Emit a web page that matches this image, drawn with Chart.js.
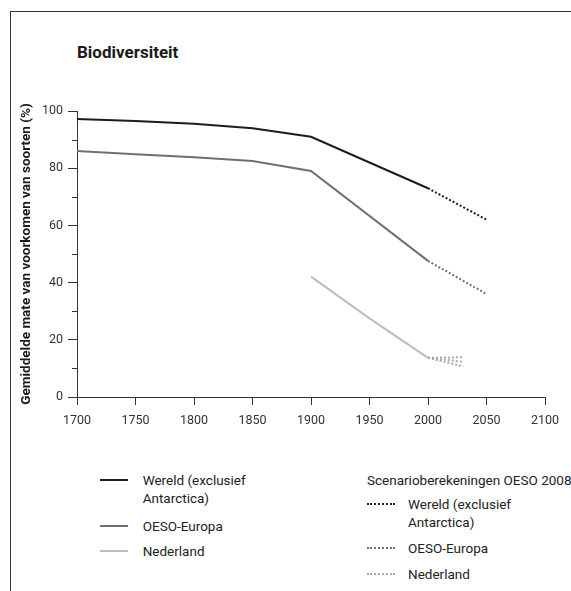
<!DOCTYPE html>
<html>
<head>
<meta charset="utf-8">
<script src="https://cdn.jsdelivr.net/npm/chart.js@4/dist/chart.umd.min.js"></script>
<style>
  html, body { margin: 0; padding: 0; background: #fff; }
  body { font-family: Roboto, "DejaVu Sans", sans-serif; color: #222; }
  #wrap { position: relative; width: 571px; height: 591px; overflow: hidden; }
  #frame { position: absolute; left: 10px; top: 11px; right: -5px; bottom: -5px;
           border-left: 1px solid #333; border-top: 1px solid #333; }
  #title { position: absolute; left: 77px; top: 42px; font-size: 17px; font-weight: bold;
           line-height: 20px; color: #1a1a1a; }
  canvas { position: absolute; left: 0; top: 0; }
  .lg { position: absolute; font-size: 13.5px; line-height: 18px; color: #222; white-space: nowrap; }
  .sw { position: absolute; width: 28px; height: 0; }
</style>
</head>
<body>
<div id="wrap">
  <div id="frame"></div>
  <div id="title">Biodiversiteit</div>
  <canvas id="chart" width="571" height="440"></canvas>
  <div id="legend"></div>
</div>
<script>
// series names (legend)
const seriesNames = ["Wereld (exclusief\nAntarctica)", "OESO-Europa", "Nederland"];
const scenarioTitle = "Scenarioberekeningen OESO 2008";

// measured history
const wereldYears = [1700, 1750, 1800, 1850, 1900, 2000];
const wereldValues = [97.2, 96.5, 95.5, 94, 91, 73];
const oesoYears = [1700, 1750, 1800, 1850, 1900, 2000];
const oesoValues = [86, 84.9, 83.8, 82.5, 79, 47.6];
const nlYears = [1900, 1950, 2000];
const nlValues = [42.1, 27.5, 13.7];

// OESO 2008 scenario calculations
const wereldScenYears = [2000, 2050];
const wereldScenValues = [73, 62];
const oesoScenYears = [2000, 2050];
const oesoScenValues = [47.6, 36];
const nlScenYears = [2000, 2030];
const nlScenHigh = [13.7, 13.9];
const nlScenMid = [13.7, 12.3];
const nlScenLow = [13.7, 10.7];

// axes
const xTicks = [1700, 1750, 1800, 1850, 1900, 1950, 2000, 2050, 2100];
const yTicks = [0, 10, 20, 30, 40, 50, 60, 70, 80, 90, 100];
const yLabelled = [0, 20, 40, 60, 80, 100];

const colWereld = "#1c1c1c";
const colOeso = "#707070";
const colNl = "#bdbdbd";
const colNlScen = "#a8a8a8";

const pts = (xs, ys) => xs.map((x, i) => ({ x: x, y: ys[i] }));
const line = (xs, ys, color, dotted) => ({
    data: pts(xs, ys),
    borderColor: color,
    borderWidth: 2,
    borderDash: dotted ? [2, 2] : [],
    pointRadius: 0,
    tension: 0,
    fill: false,
});

// short tick marks for the unlabelled y values
const minorTicks = {
    id: "minorTicks",
    afterDatasetsDraw(chart) {
        const ctx = chart.ctx;
        const ys = chart.scales.y;
        const left = chart.chartArea.left;
        ctx.save();
        ctx.strokeStyle = "#333";
        ctx.lineWidth = 1;
        ctx.beginPath();
        yTicks.filter((v) => !yLabelled.includes(v)).forEach((v) => {
            const py = Math.round(ys.getPixelForValue(v)) + 0.5;
            ctx.moveTo(left - 5, py);
            ctx.lineTo(left, py);
        });
        ctx.stroke();
        ctx.restore();
    },
};

new Chart(document.getElementById("chart"), {
    type: "line",
    data: {
        datasets: [
            line(wereldYears, wereldValues, colWereld, false),
            line(oesoYears, oesoValues, colOeso, false),
            line(nlYears, nlValues, colNl, false),
            line(wereldScenYears, wereldScenValues, colWereld, true),
            line(oesoScenYears, oesoScenValues, colOeso, true),
            line(nlScenYears, nlScenHigh, colNlScen, true),
            line(nlScenYears, nlScenMid, colNlScen, true),
            line(nlScenYears, nlScenLow, colNlScen, true),
        ],
    },
    options: {
        responsive: false,
        animation: false,
        layout: { padding: { left: 10, top: 111, right: 26, bottom: 0 } },
        plugins: { legend: { display: false }, tooltip: { enabled: false } },
        scales: {
            x: {
                type: "linear",
                min: 1700,
                max: 2100,
                afterBuildTicks: (scale) => { scale.ticks = xTicks.map((v) => ({ value: v })); },
                afterFit: (scale) => { scale.height = 43; },
                grid: { drawOnChartArea: false, drawTicks: true, tickLength: 8, tickColor: "#333" },
                border: { display: true, color: "#333", width: 1 },
                ticks: {
                    color: "#333", padding: 8, maxRotation: 0,
                    font: { family: "Roboto", size: 12.5 },
                    callback: (v) => String(v),
                },
            },
            y: {
                min: 0,
                max: 100,
                afterBuildTicks: (scale) => { scale.ticks = yTicks.map((v) => ({ value: v })); },
                afterFit: (scale) => { scale.width = 67; },
                grid: {
                    drawOnChartArea: false, drawTicks: true, tickLength: 9,
                    tickColor: (c) => (c.tick && yLabelled.includes(c.tick.value) ? "#333" : "transparent"),
                },
                border: { display: true, color: "#333", width: 1 },
                ticks: {
                    color: "#333", padding: 5,
                    font: { family: "Roboto", size: 12.5 },
                    callback: (v) => (yLabelled.includes(v) ? String(v) : ""),
                },
                title: {
                    display: true,
                    text: "Gemiddelde mate van voorkomen van soorten (%)",
                    color: "#1a1a1a",
                    font: { family: "Roboto", size: 13.5, weight: "bold" },
                    padding: { top: 9, bottom: 0 },
                },
            },
        },
    },
    plugins: [minorTicks],
});

// legend below the chart
const legend = document.getElementById("legend");
function addText(x, top, text) {
    const d = document.createElement("div");
    d.className = "lg";
    d.style.left = x + "px";
    d.style.top = top + "px";
    d.innerHTML = text.split("\n").join("<br>");
    legend.appendChild(d);
}
function addSwatch(x, cy, color, dotted) {
    const s = document.createElement("div");
    s.className = "sw";
    s.style.left = x + "px";
    s.style.top = (cy - 1) + "px";
    s.style.borderTop = "2px " + (dotted ? "dotted " : "solid ") + color;
    legend.appendChild(s);
}
const leftRows = [480, 525.7, 550.7];
const leftCols = [colWereld, colOeso, colNl];
seriesNames.forEach((name, i) => {
    addSwatch(100, leftRows[i], leftCols[i], false);
    addText(142.7, leftRows[i] - 9, name);
});
addText(367, 471, scenarioTitle);
const rightRows = [504, 548, 574];
const rightCols = [colWereld, colOeso, colNlScen];
seriesNames.forEach((name, i) => {
    addSwatch(367, rightRows[i], rightCols[i], true);
    addText(408, rightRows[i] - 9, name);
});
</script>
</body>
</html>
